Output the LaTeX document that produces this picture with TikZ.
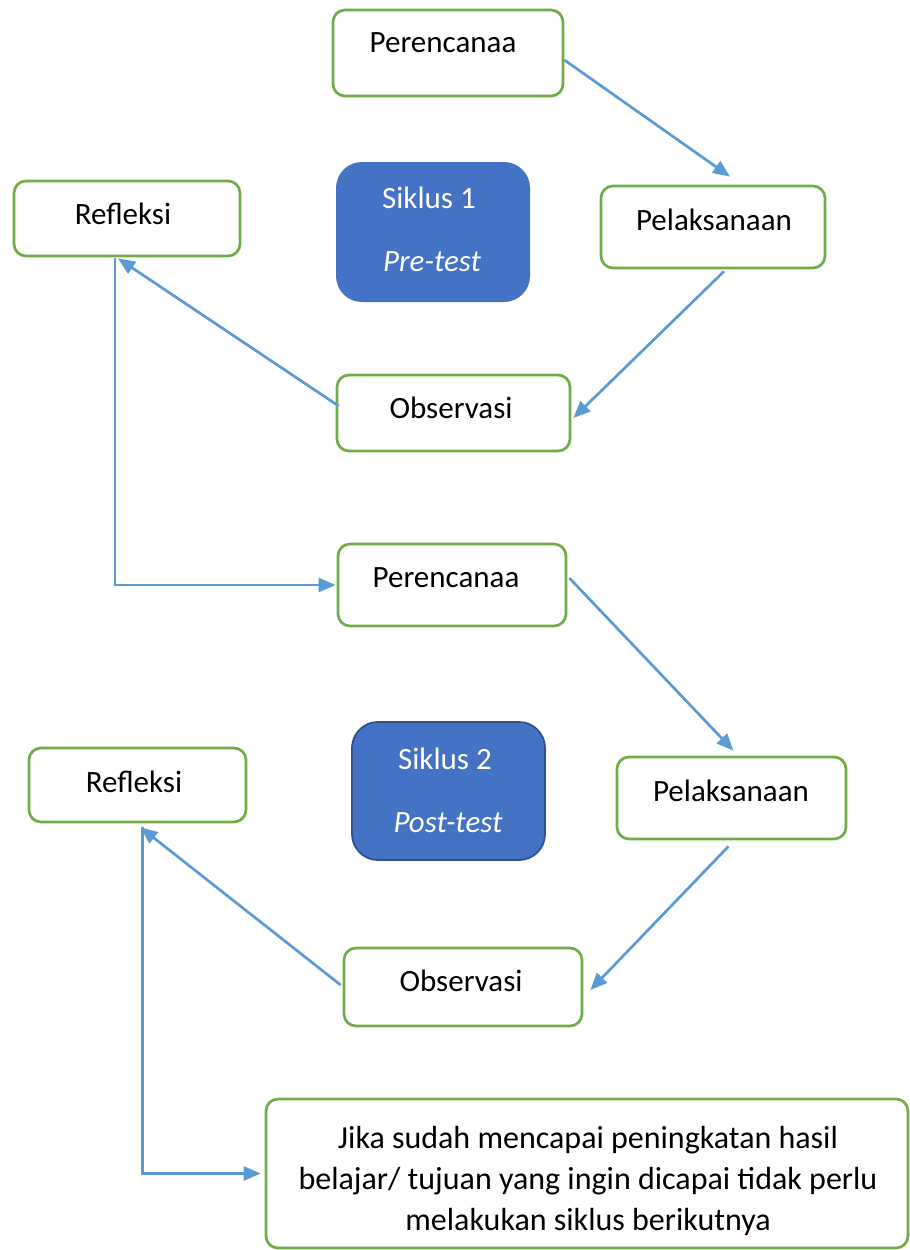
\documentclass[tikz,border=0pt]{standalone}
\usepackage{fontspec}
\setmainfont{Carlito}
\usetikzlibrary{arrows.meta}
\definecolor{boxgreen}{HTML}{70AD47}
\definecolor{arrowblue}{HTML}{5B9BD5}
\definecolor{sikfill}{HTML}{4472C4}
\definecolor{sikdraw}{HTML}{2F528F}
\tikzset{
  stagebox/.style={draw=boxgreen, line width=2.7pt, rounded corners=12pt, fill=white},
  cyclebox/.style={fill=sikfill, rounded corners=26pt},
  lbl/.style={font=\fontsize{31}{41}\selectfont, inner sep=0pt},
  wlbl/.style={lbl, text=white},
  conn/.style={draw=arrowblue, line width=2.7pt, -{Triangle[length=17pt,width=14pt]}},
}
\begin{document}
\begin{tikzpicture}[x=1pt,y=-1pt]
\useasboundingbox (0,0) rectangle (910,1250);
% ---- Siklus 1 ----
\node[stagebox, minimum width=230pt, minimum height=86pt] (p1) at (448,53) {};
\node[lbl] at (443,43) {Perencanaa};
\node[stagebox, minimum width=226pt, minimum height=75pt] (ref1) at (127,218.5) {};
\node[lbl] at (123,214) {Refleksi};
\node[cyclebox, minimum width=194pt, minimum height=140pt] (sik1) at (433,232) {};
\node[wlbl] at (429,198) {Siklus 1};
\node[wlbl] at (432,262) {\itshape Pre-test};
\node[stagebox, minimum width=224pt, minimum height=82pt] (pel1) at (713,227) {};
\node[lbl] at (714,220) {Pelaksanaan};
\node[stagebox, minimum width=233pt, minimum height=76pt] (obs1) at (453.5,413) {};
\node[lbl] at (451,408) {Observasi};
% ---- Siklus 2 ----
\node[stagebox, minimum width=228pt, minimum height=82pt] (p2) at (452,585) {};
\node[lbl] at (446,578) {Perencanaa};
\node[cyclebox, draw=sikdraw, line width=1.8pt, minimum width=193pt, minimum height=138pt] (sik2) at (448.5,791) {};
\node[wlbl] at (445,759) {Siklus 2};
\node[wlbl] at (448,823) {\itshape Post-test};
\node[stagebox, minimum width=217pt, minimum height=74pt] (ref2) at (137.5,785) {};
\node[lbl] at (134,782) {Refleksi};
\node[stagebox, minimum width=229pt, minimum height=82pt] (pel2) at (731.5,798) {};
\node[lbl] at (731,791) {Pelaksanaan};
\node[stagebox, minimum width=238pt, minimum height=78pt] (obs2) at (463,987) {};
\node[lbl] at (461,981) {Observasi};
% ---- final box ----
\node[stagebox, minimum width=642pt, minimum height=149pt] (bot) at (587,1173.5) {};
\begin{scope}
\clip (267,1100) rectangle (908,1238);
\node[lbl, font=\fontsize{32}{41}\selectfont, align=center] at (588,1181) {Jika sudah mencapai peningkatan hasil\\belajar/ tujuan yang ingin dicapai tidak perlu\\melakukan siklus berikutnya};
\end{scope}
% ---- connectors ----
\draw[conn] ([yshift=-7pt]p1.east) -- ([xshift=17pt,yshift=8pt]pel1.north);
\draw[conn] ([xshift=11pt,yshift=-2pt]pel1.south) -- ([xshift=2pt,yshift=-5pt]obs1.east);
\draw[conn] ([xshift=3pt,yshift=7pt]obs1.west) -- ([xshift=-9pt,yshift=-1pt]ref1.south);
\draw[conn] ([xshift=-12pt,yshift=-1pt]ref1.south) |- ([xshift=-1pt]p2.west);
\draw[conn] ([xshift=2pt,yshift=7pt]p2.east) -- ([xshift=2pt,yshift=5pt]pel2.north);
\draw[conn] ([xshift=-3pt,yshift=-6pt]pel2.south) -- ([xshift=7pt,yshift=-3pt]obs2.east);
\draw[conn] ([xshift=-2pt,yshift=2pt]obs2.west) -- ([xshift=3pt,yshift=-4pt]ref2.south);
\draw[conn] ([xshift=5pt,yshift=-4pt]ref2.south) |- ([xshift=-4pt]bot.west);
\end{tikzpicture}
\end{document}
